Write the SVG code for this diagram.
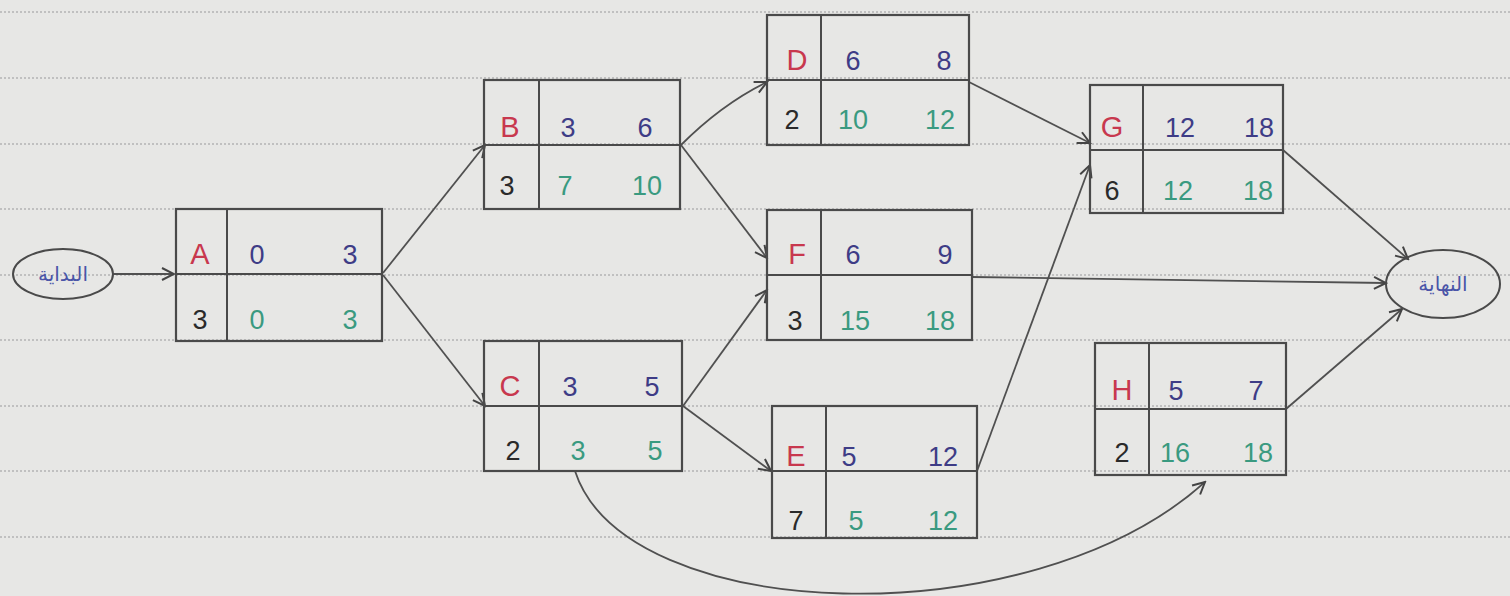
<svg xmlns="http://www.w3.org/2000/svg" width="1510" height="596" viewBox="0 0 1510 596">
<defs>
<marker id="arr" markerWidth="16" markerHeight="16" refX="14" refY="8" orient="auto" markerUnits="userSpaceOnUse">
<path d="M2,2 L14,8 L2,14" fill="none" stroke="#444" stroke-width="2"/>
</marker>
<style>
.paper{stroke:#b4b4b4;stroke-width:1.5;stroke-dasharray:2 2}
.box{fill:none;stroke:#4a4a4a;stroke-width:2.2}
.ln{stroke:#4a4a4a;stroke-width:2}
.t{font-family:"Liberation Sans",sans-serif;font-size:27px;text-anchor:middle}
.nm{fill:#c8384e;font-size:29px}
.es{fill:#3e3c86}
.ls{fill:#3a9a80}
.d{fill:#2a2a2a}
.ar{font-family:"DejaVu Sans","Noto Sans",sans-serif;font-size:20px;fill:#4a55a8;text-anchor:middle}
.c{fill:none;stroke:#505050;stroke-width:1.8;marker-end:url(#arr)}
.ell{fill:none;stroke:#4a4a4a;stroke-width:2}
</style>
</defs>
<rect width="1510" height="596" fill="#e7e7e5"/>
<g id="paper">
<line class="paper" x1="0" y1="12" x2="1510" y2="12"/>
<line class="paper" x1="0" y1="78" x2="1510" y2="78"/>
<line class="paper" x1="0" y1="144" x2="1510" y2="144"/>
<line class="paper" x1="0" y1="209" x2="1510" y2="209"/>
<line class="paper" x1="0" y1="275" x2="1510" y2="275"/>
<line class="paper" x1="0" y1="340" x2="1510" y2="340"/>
<line class="paper" x1="0" y1="406" x2="1510" y2="406"/>
<line class="paper" x1="0" y1="471" x2="1510" y2="471"/>
<line class="paper" x1="0" y1="537" x2="1510" y2="537"/>
</g>
<g id="connectors">
<line class="c" x1="113" y1="274" x2="174" y2="274"/>
<line class="c" x1="383" y1="273" x2="485" y2="145"/>
<line class="c" x1="383" y1="275" x2="485" y2="406"/>
<path class="c" d="M681,145 Q722,104 767,82"/>
<line class="c" x1="681" y1="145" x2="767" y2="258"/>
<line class="c" x1="683" y1="406" x2="767" y2="290"/>
<line class="c" x1="683" y1="406" x2="771" y2="471"/>
<path class="c" d="M575,471 C625,625 1030,640 1205,482"/>
<line class="c" x1="969" y1="82" x2="1090" y2="143"/>
<line class="c" x1="977" y1="471" x2="1090" y2="165"/>
<line class="c" x1="972" y1="277" x2="1386" y2="283"/>
<line class="c" x1="1283" y1="150" x2="1408" y2="259"/>
<line class="c" x1="1286" y1="409" x2="1402" y2="309"/>
</g>
<g id="start">
<ellipse class="ell" cx="63" cy="274" rx="50" ry="25"/>
<text class="ar" x="63" y="281">البداية</text>
</g>
<g id="end">
<ellipse class="ell" cx="1443" cy="284" rx="57" ry="34"/>
<text class="ar" x="1443" y="291">النهاية</text>
</g>
<g id="nodeA">
<rect class="box" x="176" y="209" width="206" height="132"/>
<line class="ln" x1="227" y1="209" x2="227" y2="341"/>
<line class="ln" x1="176" y1="274" x2="382" y2="274"/>
<text class="t nm" x="200" y="264">A</text><text class="t es" x="257" y="264">0</text><text class="t es" x="350" y="264">3</text>
<text class="t d" x="200" y="329">3</text><text class="t ls" x="257" y="329">0</text><text class="t ls" x="350" y="329">3</text>
</g>
<g id="nodeB">
<rect class="box" x="484" y="80" width="196" height="129"/>
<line class="ln" x1="539" y1="80" x2="539" y2="209"/>
<line class="ln" x1="484" y1="145" x2="680" y2="145"/>
<text class="t nm" x="510" y="137">B</text><text class="t es" x="568" y="137">3</text><text class="t es" x="645" y="137">6</text>
<text class="t d" x="507" y="195">3</text><text class="t ls" x="565" y="195">7</text><text class="t ls" x="647" y="195">10</text>
</g>
<g id="nodeC">
<rect class="box" x="484" y="341" width="198" height="130"/>
<line class="ln" x1="539" y1="341" x2="539" y2="471"/>
<line class="ln" x1="484" y1="406" x2="682" y2="406"/>
<text class="t nm" x="510" y="396">C</text><text class="t es" x="570" y="396">3</text><text class="t es" x="652" y="396">5</text>
<text class="t d" x="513" y="460">2</text><text class="t ls" x="578" y="460">3</text><text class="t ls" x="655" y="460">5</text>
</g>
<g id="nodeD">
<rect class="box" x="767" y="15" width="202" height="130"/>
<line class="ln" x1="821" y1="15" x2="821" y2="145"/>
<line class="ln" x1="767" y1="80" x2="969" y2="80"/>
<text class="t nm" x="797" y="70">D</text><text class="t es" x="853" y="70">6</text><text class="t es" x="944" y="70">8</text>
<text class="t d" x="792" y="129">2</text><text class="t ls" x="853" y="129">10</text><text class="t ls" x="940" y="129">12</text>
</g>
<g id="nodeF">
<rect class="box" x="767" y="210" width="205" height="130"/>
<line class="ln" x1="821" y1="210" x2="821" y2="340"/>
<line class="ln" x1="767" y1="275" x2="972" y2="275"/>
<text class="t nm" x="797" y="264">F</text><text class="t es" x="853" y="264">6</text><text class="t es" x="945" y="264">9</text>
<text class="t d" x="795" y="330">3</text><text class="t ls" x="855" y="330">15</text><text class="t ls" x="940" y="330">18</text>
</g>
<g id="nodeE">
<rect class="box" x="772" y="406" width="205" height="132"/>
<line class="ln" x1="826" y1="406" x2="826" y2="538"/>
<line class="ln" x1="772" y1="471" x2="977" y2="471"/>
<text class="t nm" x="796" y="466">E</text><text class="t es" x="849" y="466">5</text><text class="t es" x="943" y="466">12</text>
<text class="t d" x="796" y="530">7</text><text class="t ls" x="856" y="530">5</text><text class="t ls" x="943" y="530">12</text>
</g>
<g id="nodeG">
<rect class="box" x="1090" y="85" width="193" height="128"/>
<line class="ln" x1="1143" y1="85" x2="1143" y2="213"/>
<line class="ln" x1="1090" y1="150" x2="1283" y2="150"/>
<text class="t nm" x="1112" y="137">G</text><text class="t es" x="1180" y="137">12</text><text class="t es" x="1259" y="137">18</text>
<text class="t d" x="1112" y="200">6</text><text class="t ls" x="1178" y="200">12</text><text class="t ls" x="1258" y="200">18</text>
</g>
<g id="nodeH">
<rect class="box" x="1095" y="343" width="191" height="132"/>
<line class="ln" x1="1149" y1="343" x2="1149" y2="475"/>
<line class="ln" x1="1095" y1="409" x2="1286" y2="409"/>
<text class="t nm" x="1122" y="400">H</text><text class="t es" x="1176" y="400">5</text><text class="t es" x="1256" y="400">7</text>
<text class="t d" x="1122" y="462">2</text><text class="t ls" x="1175" y="462">16</text><text class="t ls" x="1258" y="462">18</text>
</g>
</svg>
